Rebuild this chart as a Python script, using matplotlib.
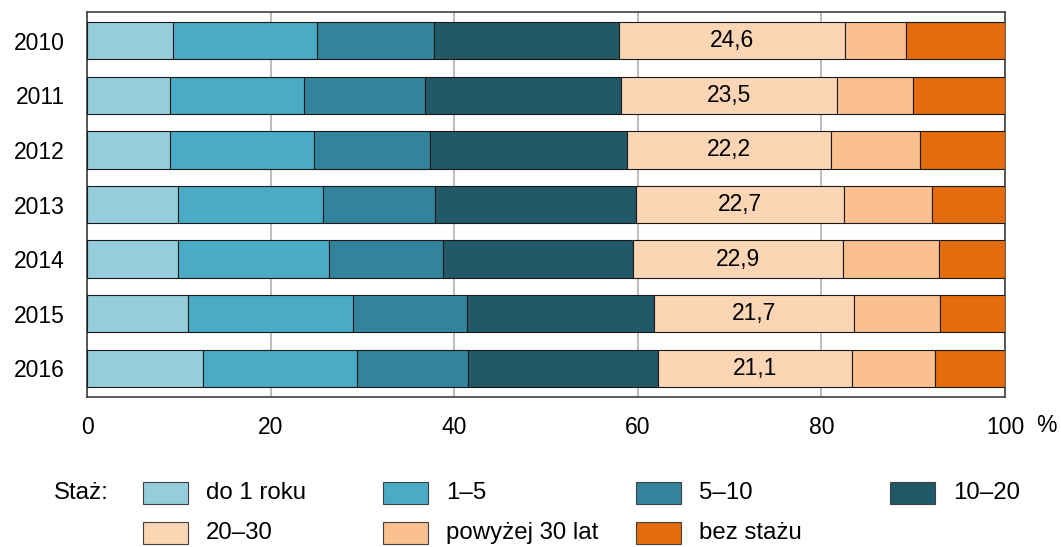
import matplotlib
matplotlib.use("Agg")
import matplotlib.pyplot as plt
from matplotlib.patches import Rectangle

plt.rcParams['font.family'] = ['Liberation Sans', 'DejaVu Sans']

years = ['2010', '2011', '2012', '2013', '2014', '2015', '2016']
series_names = ['do 1 roku', '1–5', '5–10', '10–20', '20–30', 'powyżej 30 lat', 'bez stażu']
do1 = [9.4, 9.0, 9.0, 9.9, 9.9, 11.0, 12.6]
s1_5 = [15.6, 14.6, 15.7, 15.8, 16.5, 18.0, 16.8]
s5_10 = [12.8, 13.2, 12.7, 12.2, 12.4, 12.4, 12.1]
s10_20 = [20.2, 21.4, 21.4, 21.9, 20.7, 20.4, 20.7]
s20_30 = [24.6, 23.5, 22.2, 22.7, 22.9, 21.7, 21.1]
pow30 = [6.6, 8.3, 9.7, 9.6, 10.4, 9.4, 9.1]
bez = [10.8, 10.0, 9.3, 7.9, 7.2, 7.1, 7.6]
xticks = [0, 20, 40, 60, 80, 100]

colors = ['#96CDDD', '#4AABC6', '#31849B', '#215968', '#FCD5B5', '#FAC090', '#E46C0A']
data = [do1, s1_5, s5_10, s10_20, s20_30, pow30, bez]

FS = 16.5
LFS = 17.3
fig = plt.figure(figsize=(10.61, 5.47), dpi=100)
ax = fig.add_axes([87/1061, 1 - 397/547, (1005-87)/1061, (397-12)/547])

ypos = list(range(len(years)))
left = [0.0] * len(years)
for i, (vals, col) in enumerate(zip(data, colors)):
    ax.barh(ypos, vals, left=left, height=0.68, color=col,
            edgecolor='#1a1a1a', linewidth=0.8, zorder=3)
    if i == 4:
        for y, l, v in zip(ypos, left, vals):
            ax.text(l + v / 2, y, f"{v:.1f}".replace('.', ','), ha='center', va='center',
                    fontsize=FS, color='black', zorder=4)
    left = [a + b for a, b in zip(left, vals)]

ax.set_xlim(0, 100)
ax.set_ylim(6.53, -0.53)
ax.set_yticks(ypos)
ax.set_yticklabels(years, fontsize=FS)
ax.set_xticks(xticks)
ax.set_xticklabels([str(t) for t in xticks], fontsize=FS)
ax.tick_params(axis='both', length=0)
ax.tick_params(axis='x', pad=14)
ax.tick_params(axis='y', pad=16)
ax.xaxis.grid(True, color='#b0b0b0', linewidth=1.2, zorder=0)
ax.set_axisbelow(True)
for sp in ax.spines.values():
    sp.set_color('#404040')
    sp.set_linewidth(1.2)

fig.text(1046/1061, 1 - 425/547, '%', fontsize=FS, ha='center', va='center')

# Legend (manual)
W, H = 1061, 547
fig.text(54/W, 1 - 493/H, 'Staż:', fontsize=LFS, ha='left', va='center')
cols_x = [143, 383, 636, 890]
rows_y = [493, 533]
for k, (name, col) in enumerate(zip(series_names, colors)):
    r, c = divmod(k, 4)
    x0 = cols_x[c]
    yc = rows_y[r]
    rect = Rectangle((x0 / W, 1 - (yc + 11) / H), 45 / W, 22 / H, transform=fig.transFigure,
                     facecolor=col, edgecolor='#404040', linewidth=0.8)
    fig.patches.append(rect)
    fig.text((x0 + 63) / W, 1 - yc / H, name, fontsize=LFS, ha='left', va='center')

fig.savefig('out.png', dpi=100)
